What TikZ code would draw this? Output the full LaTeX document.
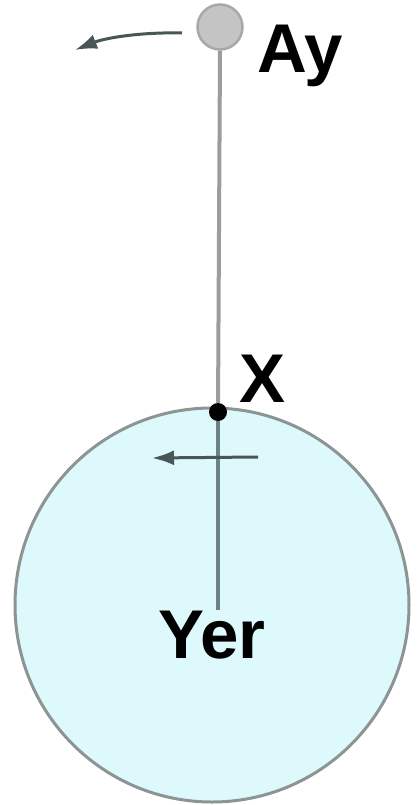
\documentclass[tikz,border=0pt]{standalone}
\usepackage{fontspec}
\setmainfont{Liberation Sans}
\usetikzlibrary{arrows.meta}
\definecolor{earthfill}{HTML}{DDF9FB}
\definecolor{earthline}{HTML}{8C9494}
\definecolor{moonfill}{HTML}{C4C4C4}
\definecolor{moonline}{HTML}{A8A8A8}
\definecolor{axis}{HTML}{9C9C9C}
\definecolor{inaxis}{HTML}{6E8080}
\definecolor{arrowc}{HTML}{4A5656}
\tikzset{
  lbl/.style={font=\fontsize{69}{80}\selectfont\bfseries, text=black, inner sep=0pt},
  motion/.style={line width=3pt, draw=arrowc, -{Latex[length=22pt,width=15pt]}},
}
\begin{document}
\begin{tikzpicture}[x=1pt,y=-1pt]
\useasboundingbox (0,0) rectangle (416,805);
\fill[white] (0,0) rectangle (416,805);
\node[circle, minimum size=394pt, inner sep=0pt, fill=earthfill, draw=earthline, line width=3pt] (earth) at (212,605) {};
\node[circle, minimum size=45pt, inner sep=0pt, fill=moonfill, draw=moonline, line width=2.5pt] (moon) at (220,27) {};
\node[circle, minimum size=18pt, inner sep=0pt, fill=black] (x) at (218,412) {};
\coordinate (axend) at (218,610);
\draw[axis, line width=4pt] (moon.south) -- (x);
\draw[inaxis, line width=3.5pt] (x) -- (axend);
\coordinate (ma1) at (182,33);
\coordinate (ma2) at (75,50);
\draw[motion] (ma1) .. controls (140,32) and (105,38) .. (ma2);
\coordinate (ea1) at (258,457);
\coordinate (ea2) at (152,458);
\draw[motion] (ea1) -- (ea2);
\node[lbl, anchor=base west] (ay) at (257,73) {Ay};
\node[lbl, anchor=base west] (xl) at (239,402) {X};
\node[lbl, anchor=base] (yer) at (212,658) {Yer};
\end{tikzpicture}
\end{document}
